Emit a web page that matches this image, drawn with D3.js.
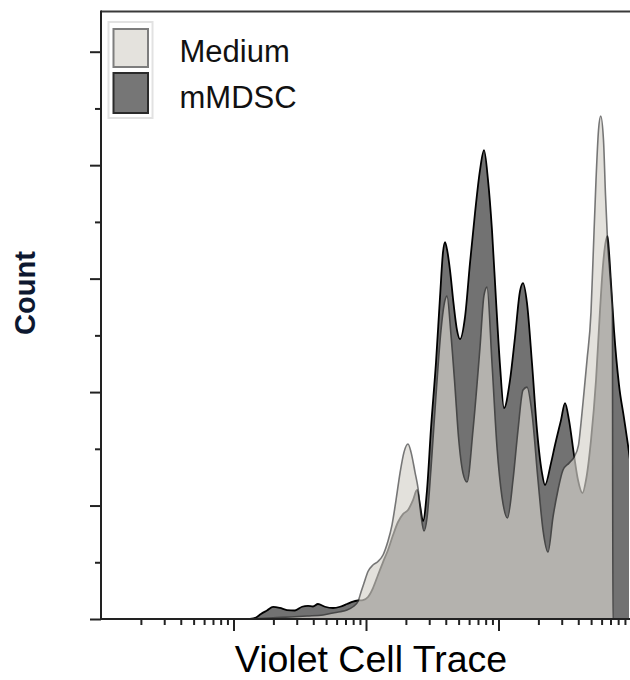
<!DOCTYPE html>
<html>
<head>
<meta charset="utf-8">
<script src="https://cdn.jsdelivr.net/npm/d3@7"></script>
<style>
  html, body { margin: 0; padding: 0; background: #fff; }
  svg { display: block; }
  text { font-family: "Liberation Sans", Arial, sans-serif; }
</style>
</head>
<body>
<svg id="chart" width="630" height="680"></svg>
<script>
// Violet Cell Trace intensity (log scale) and event counts per sample
const mmdscIntensity = [133, 148, 161, 179, 199, 224, 253, 291, 329, 365, 398, 434, 490, 564, 637, 719, 798, 870,
  949, 1035, 1129, 1232, 1344, 1466, 1600, 1745, 1902, 2075, 2263, 2426, 2556, 2693, 2887, 3095, 3376, 3619,
  3812, 3947, 4122, 4305, 4575, 4862, 5121, 5587, 6093, 6647, 7251, 7776, 8334, 8930, 9575, 10264, 11003,
  12214, 13323, 14530, 15308, 16409, 17894, 19524, 21299, 22436, 24901, 26697, 29627, 31761, 34050, 37138,
  39811, 43050, 45754, 49905, 54440, 58364, 61485, 64775, 66487, 68245, 70656, 74431, 81200, 88557, 94925, 101753];
const mmdscCount = [0, 1.3, 4.4, 7.5, 10.6, 9.7, 7.9, 7.5, 10.8, 11.5, 11.0, 13.2, 10.8, 9.7, 10.8, 13.2, 15.4, 16.3,
  16.7, 19.4, 27.3, 38.8, 50.2, 60.8, 74.0, 85.5, 92.5, 96.0, 104.8, 113.7, 100.4, 86.3, 113.7, 168.3, 226.4, 283.7,
  323.3, 332.2, 323.3, 307.5, 278.4, 254.6, 246.7, 266.1, 313.7, 357.7, 395.6, 413.2, 386.8, 342.7, 281.1, 223.8, 185.9,
  210.6, 248.5, 289.0, 296.0, 278.4, 225.6, 166.5, 128.6, 118.1, 137.4, 153.3, 175.3, 190.3, 175.3, 144.5,
  122.5, 111.0, 122.5, 157.7, 210.6, 272.2, 311.9, 333.9, 337.4, 323.3, 296.0, 254.6, 206.2, 177.1, 153.3, 126.9];

const mediumIntensity = [133, 199, 267, 359, 474, 564, 637, 719, 798, 870, 917, 966, 1035, 1129, 1232, 1344, 1466,
  1571, 1685, 1806, 1936, 2075, 2186, 2343, 2469, 2601, 2740, 2887, 3095, 3376, 3681, 3879, 4087, 4381, 4696,
  4991, 5396, 5784, 6420, 7251, 7776, 8190, 8930, 9743, 10627, 11691, 12866, 14032, 15308, 16409, 17894, 19866,
  21673, 23637, 25785, 28119, 30676, 34050, 37138, 40160, 41947, 44193, 46560, 49905, 51670, 54443, 56855,
  59068, 62006, 64207, 66487, 68837, 71267, 72391, 73024, 100000];
const mediumCount = [0, 1.1, 1.8, 2.6, 3.5, 5.3, 6.4, 7.9, 10.8, 15.4, 23.8, 31.7, 41.9, 47.6, 50.7, 56.4, 68.7,
  82.8, 104.8, 128.6, 147.1, 154.2, 147.1, 129.5, 115.4, 91.6, 77.5, 89.0, 133.0, 197.4, 254.6, 276.7, 284.6, 250.2, 204.4,
  160.4, 128.6, 120.7, 166.5, 239.6, 285.5, 292.5, 225.6, 151.5, 107.5, 89.0, 122.5, 166.5, 201.8, 204.4, 181.5, 122.5,
  78.4, 59.0, 89.9, 113.7, 131.3, 137.4, 142.7, 153.3, 172.7, 200.0, 228.2, 270.5, 316.3, 386.8, 430.8,
  443.2, 422.0, 373.6, 333.9, 309.3, 284.6, 270.5, 0, 0];

const legendLabels = ["Medium", "mMDSC"];
const countMajorTicks = [0, 100, 200, 300, 400, 500];
const countMinorTicks = [50, 150, 250, 350, 450];
const decadeTicks = [100, 1000, 10000];

const svg = d3.select("#chart");
const plotLeft = 101, plotRight = 629, plotTop = 12, plotBottom = 619;

const x = d3.scaleLog().domain([10, 100000]).range([101, 631]);
const y = d3.scaleLinear().domain([0, 535]).range([plotBottom, plotTop]);

const minorX = [];
for (let e = 1; e <= 4; e++) {
  for (let k = 2; k <= 9; k++) {
    const v = k * Math.pow(10, e);
    if (x(v) <= plotRight) minorX.push(v);
  }
}

svg.append("clipPath").attr("id", "plot-clip")
  .append("rect").attr("x", plotLeft).attr("y", plotTop)
  .attr("width", plotRight - plotLeft).attr("height", plotBottom - plotTop);

const series = (xs, ys) => xs.map((v, i) => ({ v, c: ys[i] }));
const mmdsc = series(mmdscIntensity, mmdscCount);
const medium = series(mediumIntensity, mediumCount);

const area = d3.area().curve(d3.curveMonotoneX)
  .x(d => x(d.v)).y0(y(0)).y1(d => y(d.c));
const line = d3.line().curve(d3.curveMonotoneX)
  .x(d => x(d.v)).y(d => y(d.c));

const plot = svg.append("g").attr("clip-path", "url(#plot-clip)");

// mMDSC histogram underneath
plot.append("path").datum(mmdsc).attr("d", area).attr("fill", "#727272");
plot.append("path").datum(mmdsc).attr("d", line)
  .attr("fill", "none").attr("stroke", "#000").attr("stroke-width", 1.8);

// Medium histogram drawn translucent on top
const med = plot.append("g").attr("opacity", 0.665);
med.append("path").datum(medium).attr("d", area).attr("fill", "rgb(214,211,204)");
med.append("path").datum(medium).attr("d", line)
  .attr("fill", "none").attr("stroke", "#333").attr("stroke-width", 1.6);

// Axes
const yMajor = svg.append("g").attr("transform", `translate(${plotLeft},0)`)
  .call(d3.axisLeft(y).tickValues(countMajorTicks).tickSize(11).tickFormat(""));
const yMinor = svg.append("g").attr("transform", `translate(${plotLeft},0)`)
  .call(d3.axisLeft(y).tickValues(countMinorTicks).tickSize(6).tickFormat(""));
const xMajor = svg.append("g").attr("transform", `translate(0,${plotBottom})`)
  .call(d3.axisBottom(x).tickValues(decadeTicks).tickSize(12).tickFormat(""));
const xMinor = svg.append("g").attr("transform", `translate(0,${plotBottom})`)
  .call(d3.axisBottom(x).tickValues(minorX).tickSize(6).tickFormat(""));
[yMajor, yMinor, xMajor, xMinor].forEach(g => {
  g.select(".domain").remove();
  g.selectAll(".tick line").attr("stroke", "#222").attr("stroke-width", 2);
});

// Frame
svg.append("line").attr("x1", plotLeft).attr("x2", 630).attr("y1", plotTop - 0.5).attr("y2", plotTop - 0.5)
  .attr("stroke", "#3a3a3a").attr("stroke-width", 2);
svg.append("line").attr("x1", plotLeft).attr("x2", plotLeft).attr("y1", plotTop - 1.5).attr("y2", plotBottom + 1)
  .attr("stroke", "#222").attr("stroke-width", 2);
svg.append("line").attr("x1", plotLeft - 1).attr("x2", 630).attr("y1", plotBottom).attr("y2", plotBottom)
  .attr("stroke", "#222").attr("stroke-width", 2);

// Legend
const legend = svg.append("g");
legend.append("rect").attr("x", 108.5).attr("y", 22).attr("width", 44).attr("height", 96)
  .attr("fill", "#fff").attr("stroke", "#e2e2e2").attr("stroke-width", 2);
const swatches = [
  { fill: "#e4e2dd", stroke: "#7d7d7d", y: 29, h: 38 },
  { fill: "#767676", stroke: "#2a2a2a", y: 73, h: 40 }
];
legendLabels.forEach((label, i) => {
  const s = swatches[i];
  legend.append("rect").attr("x", 113.5).attr("y", s.y).attr("width", 34.5).attr("height", s.h)
    .attr("fill", s.fill).attr("stroke", s.stroke).attr("stroke-width", 2);
  legend.append("text").attr("x", 179.5).attr("y", i === 0 ? 62 : 108)
    .attr("font-size", 31).attr("fill", "#111").text(label);
});

// Axis titles
svg.append("text").attr("x", 371).attr("y", 672).attr("text-anchor", "middle")
  .attr("font-size", 37.5).attr("fill", "#000").text("Violet Cell Trace");
svg.append("text").attr("transform", "translate(35,293) rotate(-90)").attr("text-anchor", "middle")
  .attr("font-size", 29).attr("font-weight", "bold").attr("fill", "#0d1830").text("Count");
</script>
</body>
</html>
